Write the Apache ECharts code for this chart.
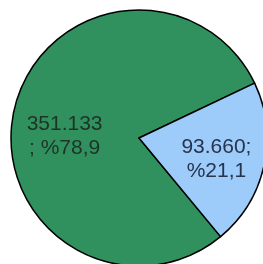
<!DOCTYPE html>
<html>
<head>
<meta charset="utf-8">
<script src="https://cdn.jsdelivr.net/npm/echarts@6/dist/echarts.min.js"></script>
<style>
html, body { margin: 0; padding: 0; background: #fff; }
#chart { width: 263px; height: 264px; }
</style>
</head>
<body>
<div id="chart"></div>
<script>
// veriler
var categories = ['A', 'B'];
var values = [351133, 93660];
var colors = ['#31915e', '#9dcbfa'];
var textColors = ['#1e3327', '#26344c'];

var total = values[0] + values[1];

function fmtNum(v) {
	return String(v).replace(/\B(?=(\d{3})+(?!\d))/g, '.');
}
function fmtPct(v) {
	return (v / total * 100).toFixed(1).replace('.', ',');
}

var dom = document.getElementById('chart');
var myChart = echarts.init(dom);
var option = {
	backgroundColor: '#fff',
	animation: false,
	series: [{
		type: 'pie',
		center: [139, 138],
		radius: [0, 128],
		startAngle: 309.6,
		clockwise: true,
		label: {
			show: true,
			position: 'inside',
			fontFamily: 'Liberation Sans, Arial, sans-serif',
			fontSize: 21,
			lineHeight: 24,
			align: 'center',
			formatter: function(p) {
				var v = fmtNum(p.value), pc = fmtPct(p.value);
				if (p.dataIndex === 0) return v + '\n; %' + pc;
				return v + ';\n%' + pc;
			}
		},
		labelLine: { show: false },
		itemStyle: { borderColor: '#000', borderWidth: 1.5 },
		emphasis: { disabled: true },
		data: [{
			name: categories[0], value: values[0],
			itemStyle: { color: colors[0] },
			label: { color: textColors[0], offset: [-9, 13] }
		}, {
			name: categories[1], value: values[1],
			itemStyle: { color: colors[1] },
			label: { color: textColors[1], offset: [12, 7] }
		}]
	}]
};
myChart.setOption(option, true);
</script>
</body>
</html>
